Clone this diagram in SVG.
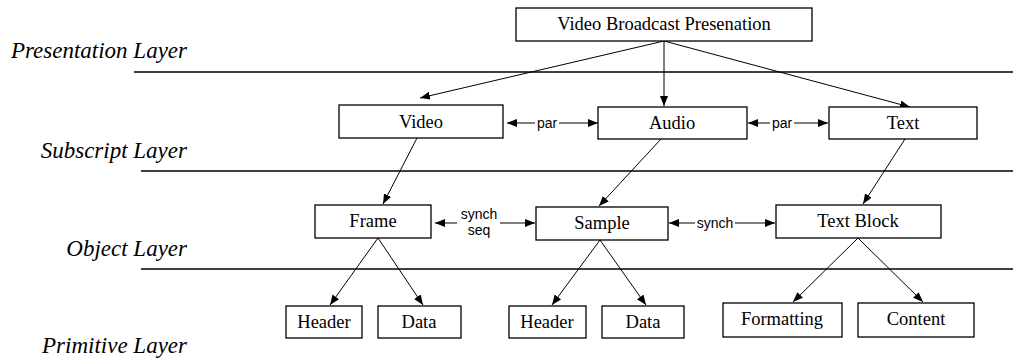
<svg xmlns="http://www.w3.org/2000/svg" width="1013" height="363" viewBox="0 0 1013 363">
<style>
.box{fill:#fff;stroke:#000;stroke-width:1.3}
.nt{font-family:"Liberation Serif",serif;font-size:18.5px;text-anchor:middle;fill:#000}
.lt{font-family:"Liberation Serif",serif;font-style:italic;font-size:23px;text-anchor:end;fill:#000}
.sl{font-family:"Liberation Sans",sans-serif;font-size:14px;text-anchor:middle;fill:#000}
.ln{stroke:#000;stroke-width:1.3;fill:none}
.c{stroke:#000;stroke-width:1;fill:none}
.a{marker-end:url(#ah)}
.s{marker-start:url(#ah)}
</style>
<defs>
<marker id="ah" markerUnits="userSpaceOnUse" markerWidth="11" markerHeight="9" refX="10" refY="4" orient="auto-start-reverse" viewBox="0 0 11 9">
<path d="M0,0 L10,4 L0,8 z" fill="#000"/>
</marker>
</defs>
<g id="layers">
<line class="ln" x1="134" y1="72" x2="1013" y2="72"/>
<line class="ln" x1="141" y1="171" x2="1013" y2="171"/>
<line class="ln" x1="141" y1="269" x2="1013" y2="269"/>
<text class="lt" x="187" y="58">Presentation Layer</text>
<text class="lt" x="187" y="158">Subscript Layer</text>
<text class="lt" x="187" y="256">Object Layer</text>
<text class="lt" x="187" y="353">Primitive Layer</text>
</g>
<g id="connectors">
<line class="c a" x1="664" y1="41" x2="420" y2="98"/>
<line class="c a" x1="664" y1="41" x2="664" y2="106"/>
<line class="c a" x1="664" y1="41" x2="910" y2="107"/>
<line class="c s" x1="507" y1="123" x2="535" y2="123"/>
<line class="c a" x1="559" y1="123" x2="598" y2="123"/>
<text class="sl" x="547" y="128">par</text>
<line class="c s" x1="748" y1="123" x2="770" y2="123"/>
<line class="c a" x1="794" y1="123" x2="828" y2="123"/>
<text class="sl" x="782" y="128">par</text>
<line class="c a" x1="417" y1="138" x2="383" y2="204"/>
<line class="c a" x1="661" y1="139" x2="599" y2="206"/>
<line class="c a" x1="905" y1="139" x2="863" y2="204"/>
<line class="c s" x1="435" y1="223" x2="457" y2="223"/>
<line class="c a" x1="500" y1="223" x2="535" y2="223"/>
<text class="sl" x="479" y="219">synch</text>
<text class="sl" x="479" y="235">seq</text>
<line class="c s" x1="669" y1="223" x2="695" y2="223"/>
<line class="c a" x1="735" y1="223" x2="775" y2="223"/>
<text class="sl" x="715" y="228">synch</text>
<line class="c a" x1="378" y1="238" x2="330" y2="305"/>
<line class="c a" x1="378" y1="238" x2="423" y2="305"/>
<line class="c a" x1="600" y1="240" x2="552" y2="305"/>
<line class="c a" x1="600" y1="240" x2="646" y2="305"/>
<line class="c a" x1="858" y1="238" x2="793" y2="302"/>
<line class="c a" x1="858" y1="238" x2="923" y2="302"/>
</g>
<g id="n-vbp"><rect class="box" x="516" y="8" width="296" height="33"/><text class="nt" x="664" y="30">Video Broadcast Presenation</text></g>
<g id="n-video"><rect class="box" x="339" y="105" width="164" height="33"/><text class="nt" x="421" y="128">Video</text></g>
<g id="n-audio"><rect class="box" x="598" y="107" width="149" height="32"/><text class="nt" x="672" y="129">Audio</text></g>
<g id="n-text"><rect class="box" x="829" y="107" width="148" height="32"/><text class="nt" x="903" y="129">Text</text></g>
<g id="n-frame"><rect class="box" x="315" y="205" width="116" height="33"/><text class="nt" x="373" y="227">Frame</text></g>
<g id="n-sample"><rect class="box" x="536" y="207" width="132" height="33"/><text class="nt" x="602" y="229">Sample</text></g>
<g id="n-textblock"><rect class="box" x="776" y="205" width="165" height="33"/><text class="nt" x="858" y="227">Text Block</text></g>
<g id="n-header1"><rect class="box" x="286" y="306" width="76" height="32"/><text class="nt" x="324" y="328">Header</text></g>
<g id="n-data1"><rect class="box" x="378" y="306" width="83" height="32"/><text class="nt" x="419" y="328">Data</text></g>
<g id="n-header2"><rect class="box" x="509" y="306" width="77" height="32"/><text class="nt" x="547" y="328">Header</text></g>
<g id="n-data2"><rect class="box" x="602" y="306" width="82" height="32"/><text class="nt" x="643" y="328">Data</text></g>
<g id="n-formatting"><rect class="box" x="723" y="303" width="119" height="34"/><text class="nt" x="782" y="325">Formatting</text></g>
<g id="n-content"><rect class="box" x="858" y="303" width="116" height="34"/><text class="nt" x="916" y="325">Content</text></g>
</svg>
